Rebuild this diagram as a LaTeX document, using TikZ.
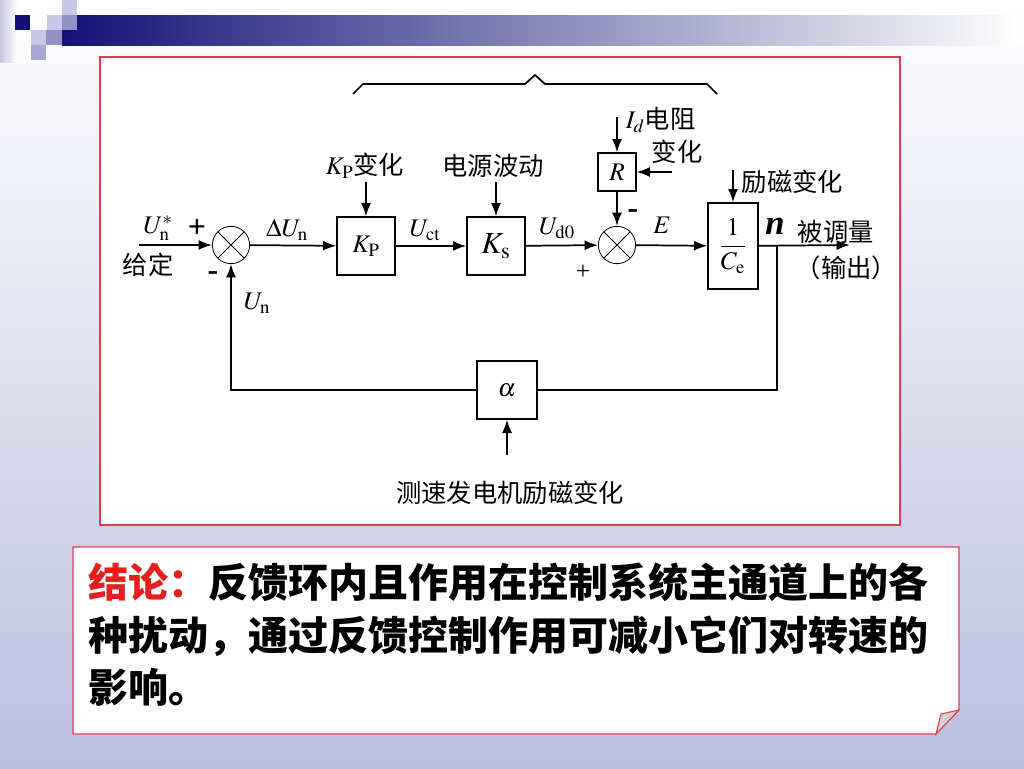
\documentclass[tikz,border=0pt]{standalone}
\usepackage{amsmath}
\usepackage{mathptmx}
\usepackage{fontspec}
\setmainfont{Liberation Serif}
\newfontfamily\cjk{Noto Sans CJK SC}
\usetikzlibrary{arrows.meta}
\definecolor{bgblue}{RGB}{188,190,224}
\definecolor{navy}{RGB}{18,18,118}
\definecolor{framered}{RGB}{225,60,80}
\definecolor{sqlight}{RGB}{200,200,230}
\definecolor{sqmid}{RGB}{145,145,200}
\definecolor{textred}{RGB}{230,30,30}

\begin{document}
\begin{tikzpicture}[x=0.75pt,y=-0.75pt,line width=1.3pt,>={Latex[length=10pt,width=7.5pt]},
  blk/.style = {draw, line width=1.5pt, inner sep=0pt, minimum width=43pt, minimum height=43pt, font=\fontsize{19}{22}\selectfont},
  sum/.style = {draw, circle, line width=0.6pt, minimum size=28pt, inner sep=0pt,
    path picture={\draw[line width=0.6pt] (path picture bounding box.north west) -- (path picture bounding box.south east)
      (path picture bounding box.north east) -- (path picture bounding box.south west);}},
  lbl/.style = {inner sep=0pt, font=\fontsize{19}{22}\selectfont},
  sgn/.style = {inner sep=0pt, font=\fontsize{24}{26}\selectfont\bfseries}]
\useasboundingbox (0,0) rectangle (1024,768);
% slide background
\shade[top color=white, bottom color=bgblue] (0,0) rectangle (1024,768);
\shade[left color=sqlight, right color=white] (0,0) rectangle (18,62);
\shade[left color=navy, right color=white] (62,15) rectangle (1024,45);
\fill[navy] (15,15) rectangle (30,30);
\fill[sqlight] (47,15) rectangle (62,30);
\fill[sqlight] (62,0) rectangle (77,15);
\fill[sqmid] (62,15) rectangle (77,30);
\fill[sqlight] (31,30) rectangle (46,45);
\fill[sqmid] (46,30) rectangle (62,45);
\fill[sqmid!80!white] (31,45) rectangle (46,60);
% frames
\draw[framered, fill=white, line width=0.8pt] (100,57) rectangle (900,525);
\draw[framered, fill=white, line width=0.8pt] (73,547) -- (959,547) -- (959,710) -- (936,734) -- (73,734) -- cycle;
\draw[framered, fill=gray!35, line width=0.8pt] (959,710) -- (941,714) -- (936,734) -- cycle;

% blocks
\node[sum] (1) at (231,245) {};
\node[blk] (2) at (366,246) {$K_{\mathrm{P}}$};
\node[blk, font=\fontsize{23}{26}\selectfont] (3) at (496,246) {$K_{\mathrm{s}}$};
\node[sum] (4) at (617,245) {};
\node[blk, minimum width=28pt, minimum height=28pt] (5) at (617,172) {$R$};
\node[blk, minimum width=37pt, minimum height=64pt] (6) at (733,246) {$\dfrac{1}{C_{\mathrm{e}}}$};
\node[blk, minimum width=45pt, minimum height=43pt] (7) at (507,390) {$\alpha$};

% free ends
\coordinate (in) at (139,245);
\coordinate (out) at (850,245);
\coordinate (br) at (777,245);
\coordinate (kp) at (366,182);
\coordinate (ks) at (496,182);
\coordinate (rt) at (617,117);
\coordinate (rr) at (672,172);
\coordinate (ce) at (733,170);
\coordinate (al) at (507,455);

% brace
\draw (353,94) -- (363,84) -- (525,84) -- (535,75) -- (545,84) -- (707,84) -- (717,94);

% signals
\draw[->] (in) -- (1);
\draw[->] (1) -- (2);
\draw[->] (2) -- (3);
\draw[->] (3) -- (4);
\draw[->] (4) -- (6);
\draw[->] (6) -- (out);
\draw[->] (kp) -- (2);
\draw[->] (ks) -- (3);
\draw[->] (rt) -- (5);
\draw[->] (rr) -- (5);
\draw[->] (5) -- (4);
\draw[->] (ce) -- (6);
\draw (br) |- (7);
\draw[->] (7) -| (1);
\draw[->] (al) -- (7);

% labels
\node[lbl] (l1) at (158,228) {$U_{\mathrm{n}}^{*}$};
\node[sgn] (l2) at (197,228) {+};
\node[lbl] (l3) at (148,265) {\cjk 给定};
\node[sgn] (l4) at (213,276) {-};
\node[lbl] (l5) at (257,303) {$U_{\mathrm{n}}$};
\node[lbl] (l6) at (287,230) {$\Delta U_{\mathrm{n}}$};
\node[lbl] (l7) at (365,166) {$K_{\mathrm{P}}$\cjk 变化};
\node[lbl] (l8) at (493,166) {\cjk 电源波动};
\node[lbl] (l9) at (425,230) {$U_{\mathrm{ct}}$};
\node[lbl] (l10) at (557,228) {$U_{\mathrm{d0}}$};
\node[lbl] (l11) at (583,272) {+};
\node[sgn] (l12) at (633,214) {-};
\node[lbl] (l13) at (662,225) {$E$};
\node[lbl, anchor=west] (l14) at (625,120) {$I_d$\cjk 电阻};
\node[lbl] (l15) at (677,152) {\cjk 变化};
\node[lbl, anchor=west] (l16) at (741,182) {\cjk 励磁变化};
\node[lbl, font=\fontsize{26}{28}\selectfont\bfseries\itshape] (l17) at (775,226) {n};
\node[lbl, anchor=west] (l18) at (797,232) {\cjk 被调量};
\node[lbl, anchor=west] (l19) at (795,268) {\cjk （输出）};
\node[lbl] (l20) at (510,493) {\cjk 测速发电机励磁变化};

% conclusion
\node[anchor=north west, align=left, inner sep=0pt, font=\fontsize{30}{39.4}\selectfont\cjk\bfseries] (8) at (88,562)
  {{\color{textred}结论：}反馈环内且作用在控制系统主通道上的各\\种扰动，通过反馈控制作用可减小它们对转速的\\影响。};
\end{tikzpicture}
\end{document}
